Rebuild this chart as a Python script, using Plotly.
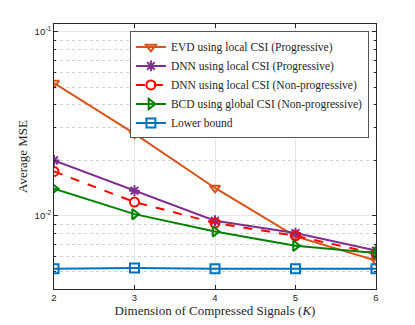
import plotly.graph_objects as go

K = [2, 3, 4, 5, 6]
evd = [0.0526, 0.0279, 0.01415, 0.00772, 0.00571]
dnn_prog = [0.01998, 0.01368, 0.0094, 0.00805, 0.00647]
dnn_nonprog = [0.0174, 0.01187, 0.00913, 0.00778, 0.00622]
bcd = [0.01403, 0.0102, 0.00822, 0.00687, 0.00627]
lower = [0.00515, 0.0052, 0.00516, 0.00515, 0.00515]

series = [
    ("EVD using local CSI (Progressive)", evd, "#D95319", "triangle-down-open", "solid"),
    ("DNN using local CSI (Progressive)", dnn_prog, "#7E2F8E", "asterisk-open", "solid"),
    ("DNN using local CSI (Non-progressive)", dnn_nonprog, "#FF0000", "circle-open", "dash"),
    ("BCD using global CSI (Non-progressive)", bcd, "#008000", "triangle-right-open", "solid"),
    ("Lower bound", lower, "#0072BD", "square-open", "solid"),
]

fig = go.Figure()
for name, y, c, sym, dash in series:
    fig.add_trace(go.Scatter(
        x=K, y=y, name=name, mode="lines+markers",
        line=dict(color=c, width=2, dash=dash),
        marker=dict(symbol=sym, size=9, color=c, line=dict(width=2, color=c)),
    ))

minor_vals = [i * 1e-3 for i in range(4, 10)] + [i * 1e-2 for i in range(2, 10)]
fig.update_layout(
    width=407, height=317,
    margin=dict(l=46, r=39, t=16, b=36),
    paper_bgcolor="white", plot_bgcolor="white",
    font=dict(family="Liberation Serif", color="#262626"),
    legend=dict(
        x=0.978, y=0.972, xanchor="right", yanchor="top",
        bgcolor="white", bordercolor="#555555", borderwidth=1,
        font=dict(family="Liberation Serif", size=11.5, color="#262626"),
        itemwidth=30, tracegroupgap=0,
    ),
    xaxis=dict(
        range=[2, 6], tickvals=K, ticktext=[str(k) for k in K],
        showgrid=True, gridcolor="#e6e6e6", gridwidth=1,
        showline=True, linecolor="#262626", linewidth=1, mirror="ticks",
        ticks="inside", ticklen=4, tickcolor="#262626",
        tickfont=dict(family="Liberation Sans", size=9.5, color="#262626"),
        title=dict(text="Dimension of Compressed Signals (<i>K</i>)", standoff=2,
                   font=dict(family="Liberation Serif", size=13, color="#262626")),
        zeroline=False, automargin=False,
    ),
    yaxis=dict(
        type="log", range=[-2.398, -0.9586],
        tickvals=[0.01, 0.1], ticktext=["10<sup>-2</sup>", "10<sup>-1</sup>"],
        showgrid=True, gridcolor="#e6e6e6", gridwidth=1,
        showline=True, linecolor="#262626", linewidth=1, mirror="ticks",
        ticks="inside", ticklen=4, tickcolor="#262626",
        tickfont=dict(family="Liberation Sans", size=9.5, color="#262626"),
        minor=dict(tickvals=minor_vals, showgrid=True, gridcolor="#d0d0d0",
                   griddash="dot", ticks="inside", ticklen=2, tickcolor="#262626"),
        title=dict(text="Average MSE", standoff=4,
                   font=dict(family="Liberation Serif", size=13, color="#262626")),
        zeroline=False, automargin=False,
    ),
)

fig.write_html("out.html")
